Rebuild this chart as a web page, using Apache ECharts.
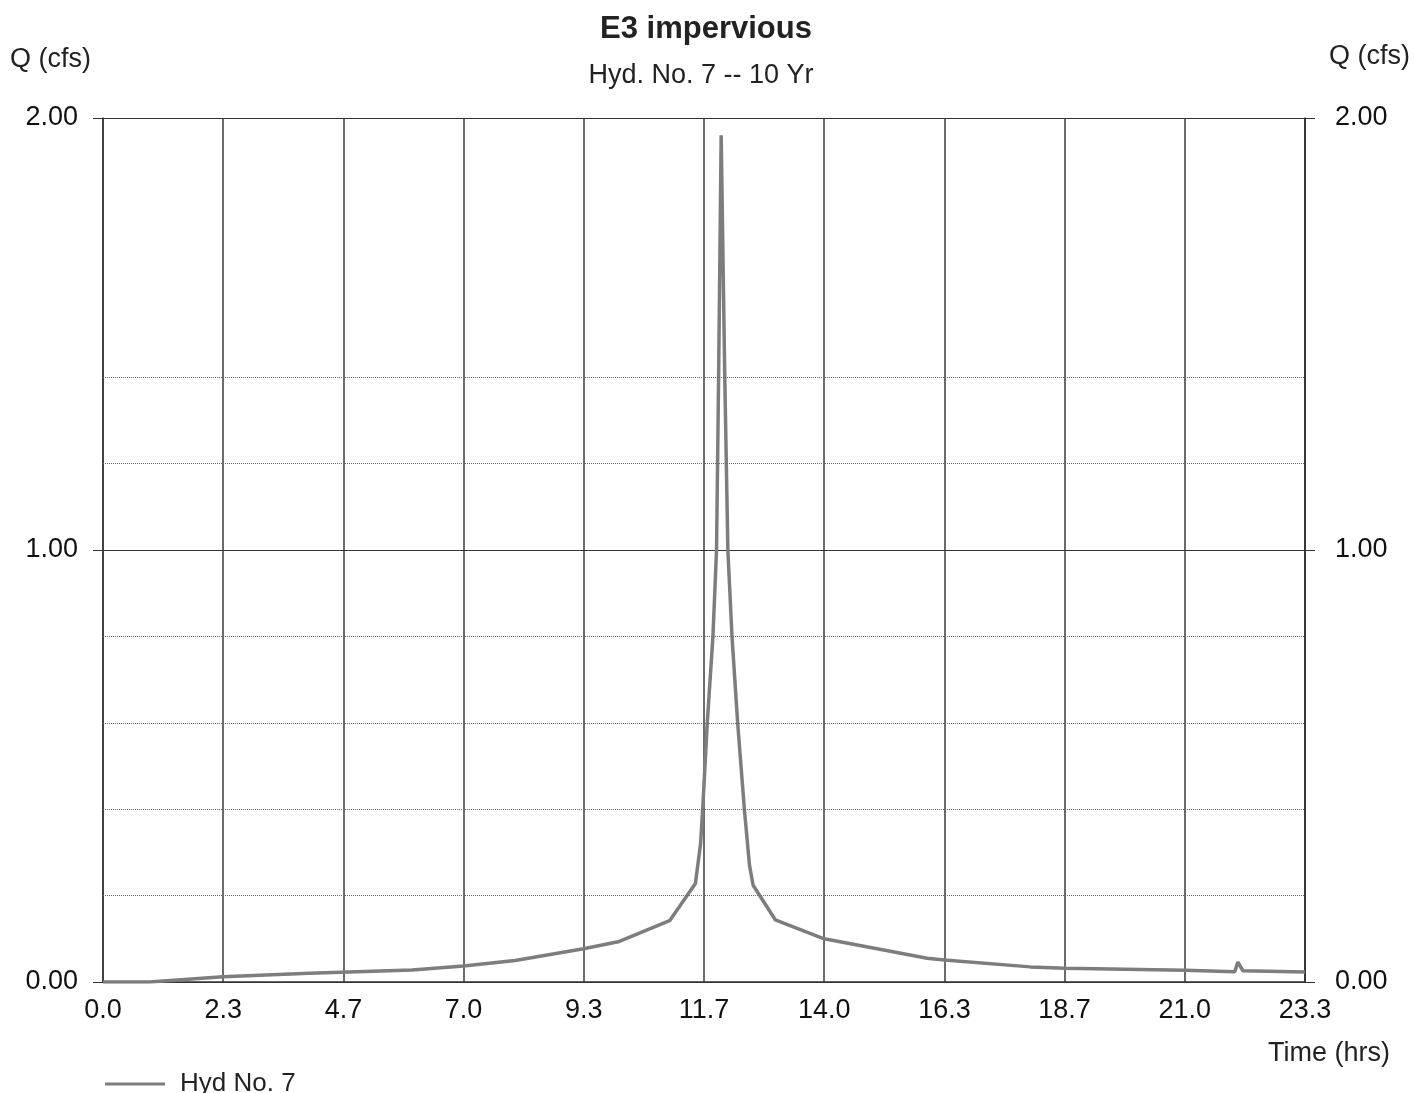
<!DOCTYPE html>
<html>
<head>
<meta charset="utf-8">
<script src="https://cdn.jsdelivr.net/npm/echarts@6/dist/echarts.min.js"></script>
<style>html,body{margin:0;padding:0;background:#fff}#c{width:1414px;height:1093px}</style>
</head>
<body>
<div id="c"></div>
<script>
// Data
const timeHrs = [0, 0.9, 2.33, 4.0, 6.0, 7.0, 8.0, 9.33, 10.0, 11.0, 11.5, 11.6, 11.65, 11.73, 11.84, 11.91, 11.95, 12.0, 12.07, 12.13, 12.21, 12.32, 12.45, 12.55, 12.62, 13.05, 14.0, 16.0, 16.33, 18.0, 18.67, 21.0, 21.97, 22.03, 22.13, 23.33];
const flowCfs = [0, 0, 0.012, 0.020, 0.028, 0.037, 0.050, 0.077, 0.093, 0.142, 0.228, 0.32, 0.42, 0.60, 0.80, 1.0, 1.4, 1.96, 1.4, 1.0, 0.8, 0.6, 0.4, 0.27, 0.224, 0.144, 0.100, 0.055, 0.051, 0.035, 0.032, 0.027, 0.024, 0.046, 0.026, 0.023];
const xTickLabels = ['0.0','2.3','4.7','7.0','9.3','11.7','14.0','16.3','18.7','21.0','23.3'];
const yTickLabels = ['0.00','1.00','2.00'];
const minorGridValues = [0.2, 0.4, 0.6, 0.8, 1.2, 1.4];
const seriesName = 'Hyd No. 7';

const FONT = 'Liberation Sans, Arial, sans-serif';
const xStep = 7 / 3;
const chart = echarts.init(document.getElementById('c'));
const yAxisCommon = {
  type: 'value', min: 0, max: 2, interval: 1,
  axisLine: { show: true, lineStyle: { color: '#333', width: 1.5 } },
  axisTick: { show: true, length: 10, lineStyle: { color: '#333' } },
  splitLine: { show: true, lineStyle: { color: '#333', width: 1.2 } },
  axisLabel: { fontFamily: FONT, fontSize: 27, color: '#111',
    formatter: v => yTickLabels[Math.round(v)] }
};
chart.setOption({
  animation: false,
  backgroundColor: '#fff',
  title: [
    { text: 'E3 impervious', left: 701, top: 9, textAlign: 'center',
      textStyle: { fontFamily: FONT, fontSize: 31, fontWeight: 'bold', color: '#222' } },
    { text: 'Hyd. No. 7 -- 10 Yr', left: 696, top: 57, textAlign: 'center',
      textStyle: { fontFamily: FONT, fontSize: 27, fontWeight: 'normal', color: '#222' } }
  ],
  grid: { left: 103, right: 109, top: 118, bottom: 111 },
  legend: {
    left: 100, top: 1066, icon: 'rect', itemWidth: 60, itemHeight: 3,
    itemGap: 10,
    textStyle: { fontFamily: FONT, fontSize: 26, color: '#222', padding: [0, 0, 0, 10] },
    data: [seriesName]
  },
  graphic: [
    { type: 'text', left: 10, top: 46, style: { text: 'Q (cfs)', font: '27px ' + FONT, fill: '#222' } },
    { type: 'text', right: 4, top: 43, style: { text: 'Q (cfs)', font: '27px ' + FONT, fill: '#222' } },
    { type: 'text', right: 24, top: 1040, style: { text: 'Time (hrs)', font: '27px ' + FONT, fill: '#222' } }
  ],
  xAxis: {
    type: 'value', min: 0, max: 10 * xStep, interval: xStep,
    axisLine: { show: true, lineStyle: { color: '#333', width: 1.5 } },
    axisTick: { show: false },
    splitLine: { show: true, lineStyle: { color: '#3a3a3a', width: 1.5 } },
    axisLabel: { fontFamily: FONT, fontSize: 27, color: '#111', margin: 15,
      formatter: v => xTickLabels[Math.round(v / xStep)] }
  },
  yAxis: [
    Object.assign({}, yAxisCommon, { position: 'left', axisLabel: Object.assign({}, yAxisCommon.axisLabel, { margin: 25 }) }),
    Object.assign({}, yAxisCommon, { position: 'right', splitLine: { show: false }, axisLabel: Object.assign({}, yAxisCommon.axisLabel, { margin: 30 }) })
  ],
  series: [{
    name: seriesName, type: 'line', yAxisIndex: 0,
    data: timeHrs.map((t, i) => [t, flowCfs[i]]),
    showSymbol: false, symbol: 'none',
    lineStyle: { color: '#7d7d7d', width: 3.5 },
    itemStyle: { color: '#7d7d7d' },
    markLine: {
      silent: true, symbol: 'none', label: { show: false },
      lineStyle: { color: '#666', type: 'dotted', width: 1 },
      data: minorGridValues.map(v => ({ yAxis: v }))
    }
  }]
});
</script>
</body>
</html>
